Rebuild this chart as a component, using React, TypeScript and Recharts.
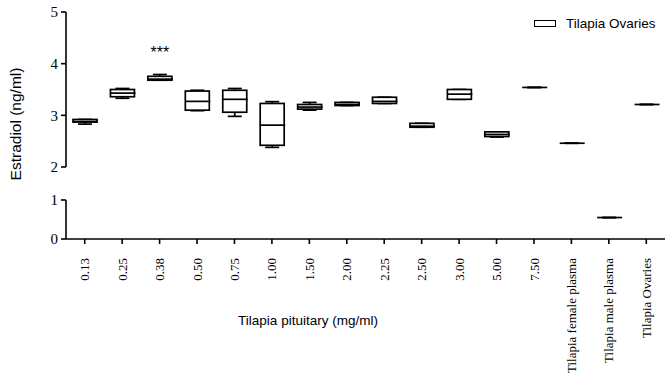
import React from 'react';
import { ComposedChart, Bar, XAxis, YAxis, Legend, LabelList, Label } from 'recharts';

const categories = [
  '0.13', '0.25', '0.38', '0.50', '0.75', '1.00', '1.50', '2.00', '2.25', '2.50',
  '3.00', '5.00', '7.50', 'Tilapia female plasma', 'Tilapia male plasma', 'Tilapia Ovaries',
];
const minValues = [2.83, 3.33, 3.68, 3.09, 2.98, 2.38, 3.1, 3.19, 3.23, 2.77, 3.31, 2.58, 3.54, 2.46, 0.55, 3.21];
const q1Values = [2.87, 3.36, 3.68, 3.1, 3.06, 2.42, 3.12, 3.19, 3.23, 2.77, 3.31, 2.59, 3.54, 2.46, 0.55, 3.21];
const medianValues = [2.88, 3.43, 3.7, 3.27, 3.31, 2.81, 3.16, 3.21, 3.27, 2.79, 3.41, 2.63, 3.54, 2.46, 0.55, 3.21];
const q3Values = [2.92, 3.5, 3.755, 3.47, 3.485, 3.23, 3.21, 3.25, 3.35, 2.845, 3.5, 2.68, 3.54, 2.46, 0.55, 3.21];
const maxValues = [2.92, 3.52, 3.79, 3.485, 3.52, 3.265, 3.25, 3.25, 3.35, 2.845, 3.5, 2.68, 3.54, 2.46, 0.55, 3.21];
const significance = ['', '', '***', '', '', '', '', '', '', '', '', '', '', '', '', ''];

// y axis is broken: 0-1 drawn in the lower panel, 2-5 in the upper one
const upperTicks = [2, 3, 4, 5];
const lowerTicks = [0, 1];
const breakValue = 1.5;

const buildData = (lower: boolean) =>
  categories.map((cat, i) => {
    const inPanel = lower ? maxValues[i] < breakValue : maxValues[i] >= breakValue;
    return {
      cat,
      whisker: inPanel ? [minValues[i], maxValues[i]] : null,
      box: inPanel ? [q1Values[i], q3Values[i]] : null,
      median: inPanel ? [medianValues[i], medianValues[i]] : null,
      sig: inPanel ? significance[i] : '',
    };
  });

const upperData = buildData(false);
const lowerData = buildData(true);

const serif = '"Liberation Serif", "Times New Roman", serif';
const sans = '"Liberation Sans", Arial, sans-serif';
const SW = 1.7;

const bad = (p: any, key: string) =>
  p.payload == null || p.payload[key] == null || isNaN(p.x) || isNaN(p.y) || isNaN(p.height);

function WhiskerShape(props: any) {
  if (bad(props, 'whisker')) return null;
  const { x, y, width, height } = props;
  const top = Math.min(y, y + height);
  const bottom = Math.max(y, y + height);
  const cx = x + width / 2;
  const cap = 7;
  return (
    <g stroke="#000" strokeWidth={SW}>
      <line x1={cx} x2={cx} y1={top} y2={bottom} />
      <line x1={cx - cap} x2={cx + cap} y1={top} y2={top} />
      <line x1={cx - cap} x2={cx + cap} y1={bottom} y2={bottom} />
    </g>
  );
}

function BoxShape(props: any) {
  if (bad(props, 'box')) return null;
  const { x, y, width, height } = props;
  return (
    <rect
      x={x}
      y={Math.min(y, y + height)}
      width={width}
      height={Math.abs(height)}
      fill="#fff"
      stroke="#000"
      strokeWidth={SW}
    />
  );
}

function MedianShape(props: any) {
  if (bad(props, 'median')) return null;
  const { x, y, width } = props;
  return <line x1={x} x2={x + width + 1} y1={y} y2={y} stroke="#000" strokeWidth={SW} />;
}

function CategoryTick(props: any) {
  const { x, y, payload } = props;
  return (
    <g transform={`translate(${x},${y})`}>
      <text
        transform="rotate(-90)"
        x={-12}
        y={0}
        dy="0.35em"
        textAnchor="end"
        fill="#000"
        style={{ fontFamily: serif, fontSize: 13 }}
      >
        {payload.value}
      </text>
    </g>
  );
}

const yTickStyle = { fontFamily: serif, fontSize: 15, fill: '#000' };
const axisStroke = { stroke: '#000', strokeWidth: 1.6 };

function LegendContent() {
  return (
    <div style={{ display: 'flex', alignItems: 'center', fontFamily: sans, fontSize: 13.5, color: '#000' }}>
      <span
        style={{
          display: 'inline-block',
          width: 20,
          height: 5,
          border: '1.5px solid #000',
          marginRight: 10,
        }}
      />
      Tilapia Ovaries
    </div>
  );
}

export default function App() {
  return (
    <div style={{ position: 'absolute', left: 0, top: 0, width: 669, height: 384, background: '#fff' }}>
      <div style={{ position: 'absolute', left: 0, top: 0 }}>
        <ComposedChart width={669} height={190} data={upperData} margin={{ top: 12, right: 4, bottom: 23, left: 36 }}>
          <XAxis xAxisId="w" dataKey="cat" hide height={0} />
          <XAxis xAxisId="b" dataKey="cat" hide height={0} />
          <XAxis xAxisId="m" dataKey="cat" hide height={0} />
          <YAxis
            domain={[2, 5]}
            ticks={upperTicks}
            width={30}
            tick={yTickStyle}
            tickSize={5}
            tickMargin={3}
            axisLine={axisStroke}
            tickLine={axisStroke}
            interval={0}
          >
            <Label
              content={() => (
                <text
                  x={15}
                  y={124}
                  transform="rotate(-90 15 124)"
                  textAnchor="middle"
                  dominantBaseline="central"
                  fill="#000"
                  style={{ fontFamily: sans, fontSize: 15.5 }}
                >
                  Estradiol (ng/ml)
                </text>
              )}
            />
          </YAxis>
          <Legend
            layout="horizontal"
            verticalAlign="middle"
            align="center"
            wrapperStyle={{ top: 16, left: 534, width: 135 }}
            content={<LegendContent />}
          />
          <Bar xAxisId="w" dataKey="whisker" barSize={24} shape={<WhiskerShape />} isAnimationActive={false}>
            <LabelList
              dataKey="sig"
              position="top"
              offset={17}
              style={{ fontFamily: sans, fontSize: 16, fill: '#000' }}
            />
          </Bar>
          <Bar xAxisId="b" dataKey="box" barSize={24} shape={<BoxShape />} isAnimationActive={false} />
          <Bar xAxisId="m" dataKey="median" barSize={24} shape={<MedianShape />} isAnimationActive={false} />
        </ComposedChart>
      </div>
      <div style={{ position: 'absolute', left: 0, top: 190 }}>
        <ComposedChart width={669} height={194} data={lowerData} margin={{ top: 10, right: 4, bottom: 0, left: 36 }}>
          <XAxis xAxisId="b" dataKey="cat" hide height={0} orientation="top" />
          <XAxis xAxisId="m" dataKey="cat" hide height={0} orientation="top" />
          <XAxis
            xAxisId="w"
            dataKey="cat"
            interval={0}
            height={145}
            tick={<CategoryTick />}
            tickSize={5}
            axisLine={axisStroke}
            tickLine={axisStroke}
          >
            <Label
              content={() => (
                <text
                  x={308}
                  y={130}
                  textAnchor="middle"
                  dominantBaseline="central"
                  fill="#000"
                  style={{ fontFamily: sans, fontSize: 13.5 }}
                >
                  Tilapia pituitary (mg/ml)
                </text>
              )}
            />
          </XAxis>
          <YAxis
            domain={[0, 1]}
            ticks={lowerTicks}
            width={30}
            tick={yTickStyle}
            tickSize={5}
            tickMargin={3}
            axisLine={axisStroke}
            tickLine={axisStroke}
            interval={0}
          />
          <Bar xAxisId="w" dataKey="whisker" barSize={24} shape={<WhiskerShape />} isAnimationActive={false} />
          <Bar xAxisId="b" dataKey="box" barSize={24} shape={<BoxShape />} isAnimationActive={false} />
          <Bar xAxisId="m" dataKey="median" barSize={24} shape={<MedianShape />} isAnimationActive={false} />
        </ComposedChart>
      </div>
    </div>
  );
}
